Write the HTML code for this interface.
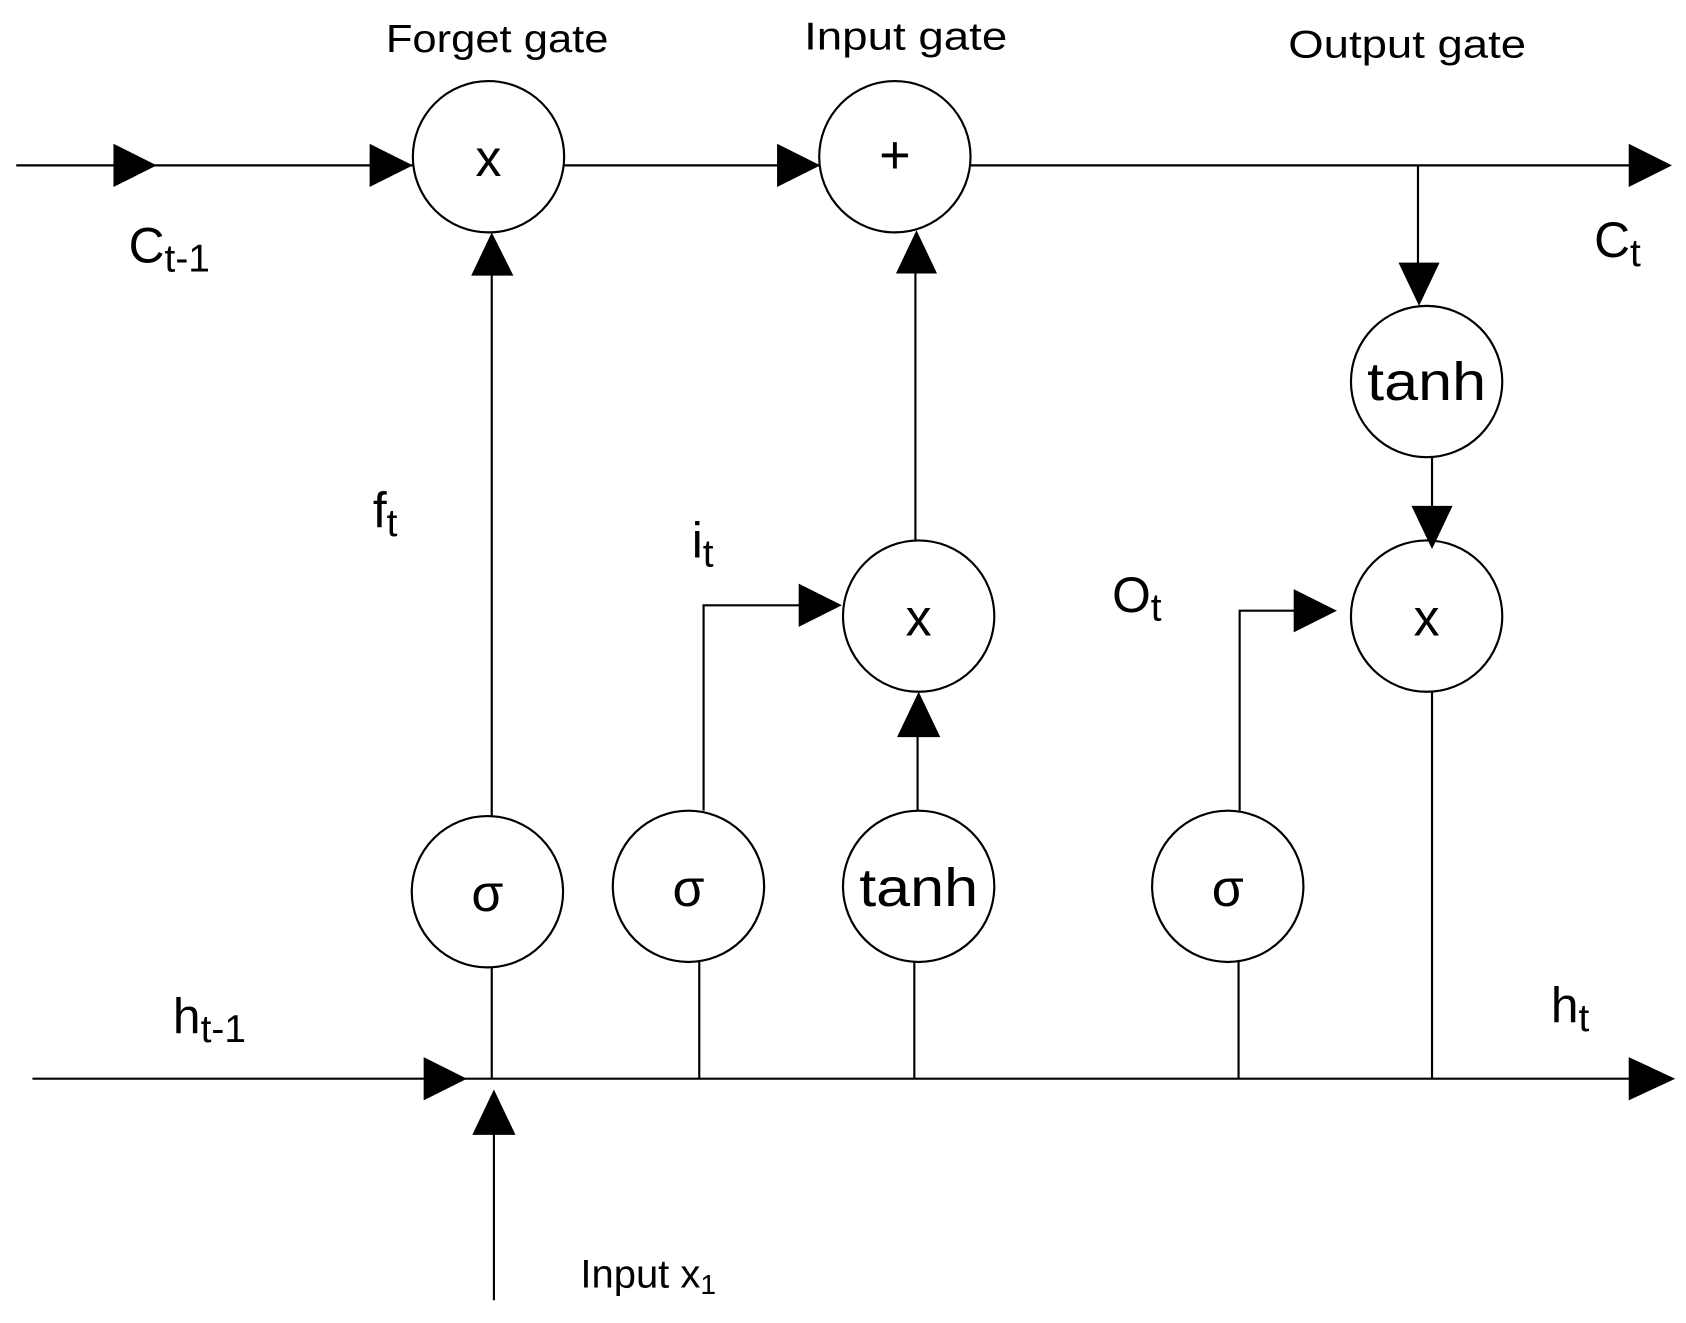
<!DOCTYPE html>
<html><head><style>html,body{margin:0;padding:0;background:#fff}svg{display:block}</style></head>
<body>
<svg width="1686" height="1323" viewBox="0 0 1560 1224" preserveAspectRatio="none" xmlns="http://www.w3.org/2000/svg" font-family="Liberation Sans, sans-serif">
<g transform="translate(-3,-2)">
<g stroke="#000" stroke-width="2" fill="none">
<line x1="18" y1="155" x2="385" y2="155"/>
<line x1="525" y1="155" x2="762" y2="155"/>
<line x1="900" y1="155" x2="1515" y2="155"/>
<line x1="1315" y1="155" x2="1315" y2="250"/>
<line x1="1328" y1="425" x2="1328" y2="475"/>
<line x1="1328" y1="642" x2="1328" y2="1000"/>
<line x1="33" y1="1000" x2="1515" y2="1000"/>
<line x1="460" y1="1205" x2="460" y2="1050"/>
<line x1="458" y1="897" x2="458" y2="1000"/>
<line x1="458" y1="757" x2="458" y2="255"/>
<line x1="650" y1="892" x2="650" y2="1000"/>
<polyline points="654,752 654,562 745,562"/>
<line x1="852" y1="752" x2="852" y2="682"/>
<line x1="849" y1="892" x2="849" y2="1000"/>
<line x1="850" y1="502" x2="850" y2="255"/>
<line x1="1149" y1="892" x2="1149" y2="1000"/>
<polyline points="1150,752 1150,567 1202,567"/>
<ellipse cx="455" cy="147" rx="70" ry="70"/>
<ellipse cx="831" cy="147" rx="70" ry="70"/>
<ellipse cx="1323" cy="355" rx="70" ry="70"/>
<ellipse cx="1323" cy="572" rx="70" ry="70"/>
<ellipse cx="853" cy="572" rx="70" ry="70"/>
<ellipse cx="454" cy="827" rx="70" ry="70"/>
<ellipse cx="640" cy="822" rx="70" ry="70"/>
<ellipse cx="853" cy="822" rx="70" ry="70"/>
<ellipse cx="1139" cy="822" rx="70" ry="70"/>
</g>
<g fill="#000">
<polygon points="108,135 148,155 108,175"/>
<polygon points="345,135 385,155 345,175"/>
<polygon points="722,135 762,155 722,175"/>
<polygon points="1510,135 1550,155 1510,175"/>
<polygon points="1297,245 1335,245 1316,285"/>
<polygon points="1309,470 1347,470 1328,510"/>
<polygon points="1510,980 1553,1000 1510,1020"/>
<polygon points="395,980 435,1000 395,1020"/>
<polygon points="440,1052 480,1052 460,1010"/>
<polygon points="439,257 478,257 458,217"/>
<polygon points="742,542 782,562 742,582"/>
<polygon points="833,684 873,684 853,642"/>
<polygon points="832,255 870,255 851,215"/>
<polygon points="1200,547 1240,567 1200,587"/>
</g>
<g fill="#000" text-anchor="middle">
<text x="463" y="50" font-size="36" textLength="206" lengthAdjust="spacingAndGlyphs">Forget gate</text>
<text x="841" y="48" font-size="36" textLength="188" lengthAdjust="spacingAndGlyphs">Input gate</text>
<text x="1305" y="55" font-size="36" textLength="220" lengthAdjust="spacingAndGlyphs">Output gate</text>
<text x="455" y="165" font-size="48">x</text>
<text x="831" y="162" font-size="50">+</text>
<text x="1323" y="372" font-size="50" textLength="110" lengthAdjust="spacingAndGlyphs">tanh</text>
<text x="1323" y="590" font-size="48">x</text>
<text x="853" y="590" font-size="48">x</text>
<text x="454" y="845" font-size="48">σ</text>
<text x="640" y="840" font-size="48">σ</text>
<text x="853" y="840" font-size="50" textLength="110" lengthAdjust="spacingAndGlyphs">tanh</text>
<text x="1139" y="840" font-size="48">σ</text>
</g>
<g fill="#000" font-size="46">
<text x="122" y="245">C<tspan font-size="36" dy="8">t-1</tspan></text>
<text x="1478" y="240">C<tspan font-size="36" dy="8">t</tspan></text>
<text x="348" y="490">f<tspan font-size="36" dy="8">t</tspan></text>
<text x="643" y="518">i<tspan font-size="36" dy="8">t</tspan></text>
<text x="1032" y="568">O<tspan font-size="36" dy="8">t</tspan></text>
<text x="163" y="958">h<tspan font-size="36" dy="8">t-1</tspan></text>
<text x="1438" y="948">h<tspan font-size="36" dy="8">t</tspan></text>
<text x="540" y="1193" font-size="37">Input x<tspan font-size="26" dy="6">1</tspan></text>
</g>
</g>
</svg>
</body></html>
